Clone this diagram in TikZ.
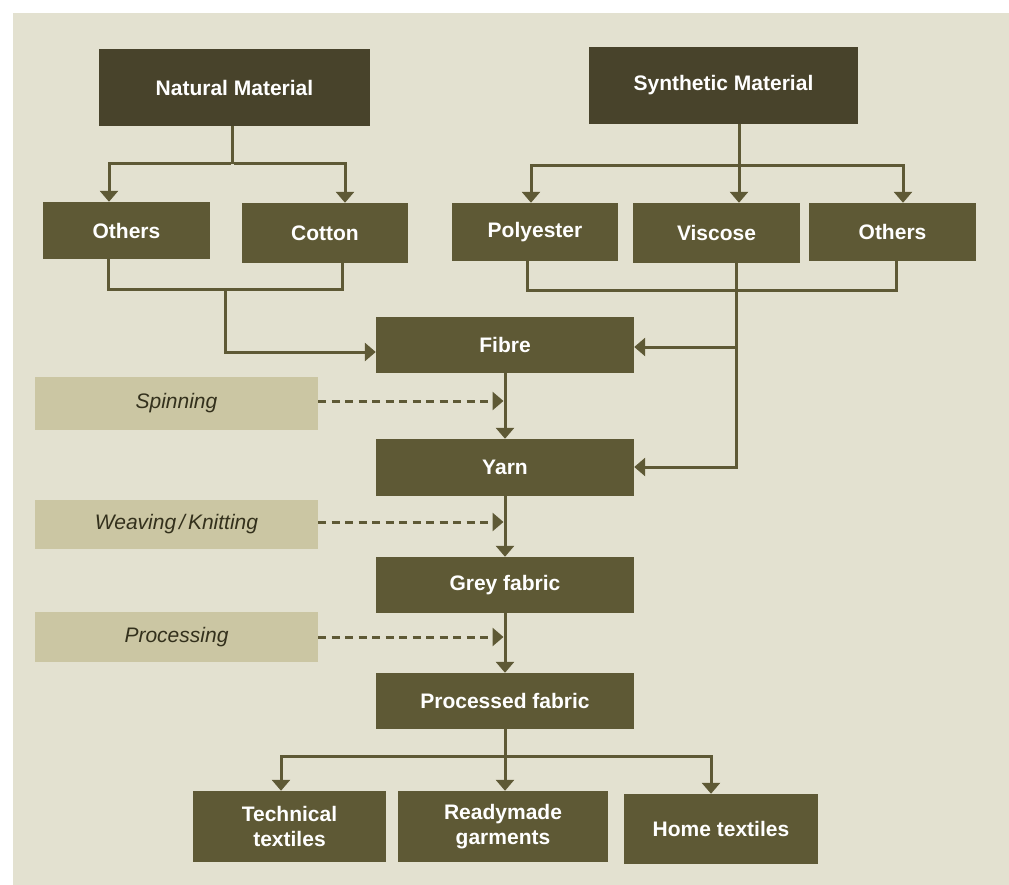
\documentclass[tikz,border=0pt]{standalone}
\usepackage{fontspec}
\setmainfont{Liberation Sans}
\usetikzlibrary{arrows.meta}
\definecolor{bgc}{HTML}{E3E1D0}
\definecolor{darkc}{HTML}{48432B}
\definecolor{medc}{HTML}{5E5935}
\definecolor{lightc}{HTML}{CBC6A3}
\definecolor{itc}{HTML}{33301C}
\tikzset{
  topbox/.style={fill=darkc, text=white, inner sep=0pt, align=center,
    font=\bfseries\fontsize{21}{25}\selectfont},
  midbox/.style={fill=medc, text=white, inner sep=0pt, align=center,
    font=\bfseries\fontsize{21}{25}\selectfont},
  procbox/.style={fill=lightc, text=itc, inner sep=0pt, align=center,
    font=\itshape\fontsize{21}{25}\selectfont},
  conn/.style={draw=medc, line width=3pt},
  arr/.style={conn, -{Triangle[width=18pt,length=11pt]}},
  dasharr/.style={draw=medc, line width=3pt, dash pattern=on 8pt off 5.5pt,
    -{Triangle[width=18pt,length=11pt]}}
}
\begin{document}
\begin{tikzpicture}[x=1pt,y=-1pt]
\useasboundingbox (0,0) rectangle (1009,885);
\fill[white] (0,0) rectangle (1009,885);
\fill[bgc] (13,13) rectangle (1009,885);

% top row
\node[topbox, minimum width=271pt, minimum height=77pt] (nat) at (234.5,87.5) {Natural Material};
\node[topbox, minimum width=269pt, minimum height=77pt] (syn) at (723.5,85.5) {Synthetic Material};

% second row
\node[midbox, minimum width=167pt, minimum height=57pt] (oth1) at (126.5,230.5) {Others};
\node[midbox, minimum width=166pt, minimum height=60pt] (cot) at (325,233) {Cotton};
\node[midbox, minimum width=166pt, minimum height=58pt] (poly) at (535,232) {Polyester};
\node[midbox, minimum width=167pt, minimum height=60pt] (visc) at (716.5,233) {Viscose};
\node[midbox, minimum width=167pt, minimum height=58pt] (oth2) at (892.5,232) {Others};

% main chain
\node[midbox, minimum width=258pt, minimum height=56pt] (fib) at (505,345) {Fibre};
\node[midbox, minimum width=258pt, minimum height=57pt] (yarn) at (505,467.5) {Yarn};
\node[midbox, minimum width=258pt, minimum height=56pt] (grey) at (505,585) {Grey fabric};
\node[midbox, minimum width=258pt, minimum height=56pt] (proc) at (505,701) {Processed fabric};

% process labels
\node[procbox, minimum width=283pt, minimum height=53pt] (spin) at (176.5,403.5) {Spinning};
\node[procbox, minimum width=283pt, minimum height=49pt] (weave) at (176.5,524.5) {Weaving\kern3pt/\kern3pt Knitting};
\node[procbox, minimum width=283pt, minimum height=50pt] (procg) at (176.5,637) {Processing};

% bottom row
\node[midbox, minimum width=193pt, minimum height=71pt] (tech) at (289.5,826.5) {Technical\\textiles};
\node[midbox, minimum width=210pt, minimum height=71pt] (ready) at (503,826.5) {Readymade\\garments};
\node[midbox, minimum width=194pt, minimum height=70pt] (home) at (721,829) {Home textiles};

% natural branch
\coordinate (nj) at (232,164);
\draw[conn] (nj |- nat.south) -- (nj);
\draw[arr] ([xshift=-1.5pt]nj) -| ([xshift=-17.5pt]oth1.north);
\draw[arr] ([xshift=1.5pt]nj) -| ([xshift=20pt]cot.north);

% synthetic branch
\coordinate (sj) at (739,166);
\draw[conn] (sj |- syn.south) -- (sj);
\draw[arr] ([xshift=1.5pt]sj) -| ([xshift=-4pt]poly.north);
\draw[arr] (sj) -- (sj |- visc.north);
\draw[arr] ([xshift=-1.5pt]sj) -| ([xshift=10.5pt]oth2.north);

% natural merge to fibre
\coordinate (lm) at (225,290);
\draw[conn] ([xshift=-18.5pt]oth1.south) |- (lm);
\draw[conn] ([xshift=17pt]cot.south) |- (lm);
\draw[arr] ([yshift=1.5pt]lm) |- ([yshift=-7pt]fib.west);

% synthetic merge to fibre and yarn
\coordinate (rm) at (736,291);
\coordinate (vj1) at (736,347);
\coordinate (vj2) at (736,467);
\draw[conn] ([xshift=-8pt]poly.south) |- ([xshift=1.5pt]rm);
\draw[conn] ([xshift=3.5pt]oth2.south) |- ([xshift=-1.5pt]rm);
\draw[conn] (rm |- visc.south) -- ([yshift=-1.5pt]vj2);
\draw[arr] ([xshift=1.5pt]vj1) -- (fib.east |- vj1);
\draw[arr] ([xshift=1.5pt]vj2) -- (yarn.east |- vj2);

% main chain
\draw[arr] (fib.south) -- (yarn.north);
\draw[arr] (yarn.south) -- (grey.north);
\draw[arr] (grey.south) -- (proc.north);

% dashed process arrows
\draw[dasharr] ([yshift=2.5pt]spin.east) -- ([yshift=2.5pt,xshift=-1.5pt]spin.east -| fib.south);
\draw[dasharr] ([yshift=2.5pt]weave.east) -- ([yshift=2.5pt,xshift=-1.5pt]weave.east -| yarn.south);
\draw[dasharr] (procg.east) -- ([xshift=-1.5pt]procg.east -| grey.south);

% distribution
\coordinate (bj) at (505,756);
\draw[conn] (proc.south) -- (bj);
\draw[arr] (bj) -- (bj |- ready.north);
\draw[arr] ([xshift=1.5pt]bj) -| ([xshift=-8.5pt]tech.north);
\draw[arr] ([xshift=-1.5pt]bj) -| ([xshift=-10pt]home.north);
\end{tikzpicture}
\end{document}
